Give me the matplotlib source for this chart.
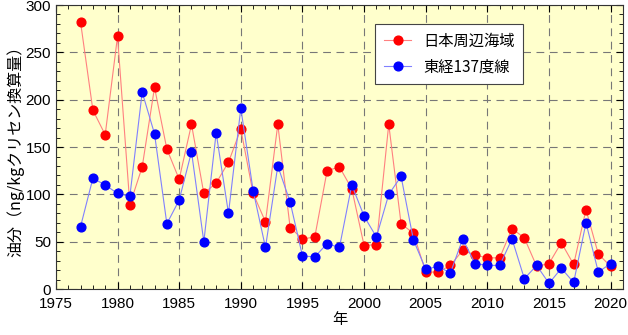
import numpy as np
import matplotlib
matplotlib.use("Agg")
import matplotlib.pyplot as plt
from matplotlib.ticker import MultipleLocator

plt.rcParams['font.family'] = ['Liberation Sans', 'Noto Sans CJK JP']

# data
years = list(range(1977, 2021))
japan_sea = [282, 189, 163, 267, 89, 129, 213, 148, 116, 174,
             101, 112, 134, 169, 101, 71, 174, 65, 53, 55,
             125, 129, 106, 46, 47, 174, 69, 59, 18, 18,
             25, 41, 36, 33, 33, 64, 54, 24, 27, 49,
             26, 84, 37, 24]
e137 = [66, 117, 110, 101, 98, 208, 164, 69, 94, 145,
        50, 165, 80, 191, 104, 44, 130, 92, 35, 34,
        48, 44, 110, 77, 55, 100, 119, 52, 21, 24,
        17, 53, 27, 25, 25, 53, 11, 25, 6, 22,
        7, 70, 18, 27]

fig, ax = plt.subplots(figsize=(6.28, 3.35), dpi=100)
fig.subplots_adjust(left=0.089, right=0.992, bottom=0.137, top=0.985)
ax.set_facecolor('#ffffcc')

ax.plot(years, japan_sea, color='#ff8080', lw=0.8, marker='o', ms=6.3,
        mfc='red', mec='red', label='日本周辺海域', zorder=3)
ax.plot(years, e137, color='#8080ff', lw=0.8, marker='o', ms=6.3,
        mfc='blue', mec='blue', label='東経137度線', zorder=3)

ax.set_xlim(1975, 2021)
ax.set_ylim(0, 300)
ax.xaxis.set_major_locator(MultipleLocator(5))
ax.xaxis.set_minor_locator(MultipleLocator(1))
ax.yaxis.set_major_locator(MultipleLocator(50))
ax.yaxis.set_minor_locator(MultipleLocator(10))
ax.tick_params(which='both', direction='in', top=True, right=True, labelsize=11)
ax.tick_params(which='major', length=5)
ax.tick_params(which='minor', length=3)
ax.tick_params(axis='x', pad=6)
ax.grid(True, which='major', ls=(0, (7, 5)), color='#777777', lw=0.8)
for s in ax.spines.values():
    s.set_color('#333333')

ax.set_xlabel('年', family=['Noto Sans CJK JP'], fontsize=11, labelpad=0)
ax.set_ylabel('油分（ng/kgクリセン換算量）', family=['Noto Sans CJK JP'], fontsize=11.5, labelpad=1)

leg = ax.legend(loc='upper left', bbox_to_anchor=(0.55, 0.96), fancybox=False,
                framealpha=1, edgecolor='#444444', prop={'family': ['Noto Sans CJK JP'], 'size': 11},
                handlelength=1.8, borderpad=0.55, labelspacing=0.6)
leg.get_frame().set_linewidth(0.8)

fig.savefig('out.png', dpi=100)
